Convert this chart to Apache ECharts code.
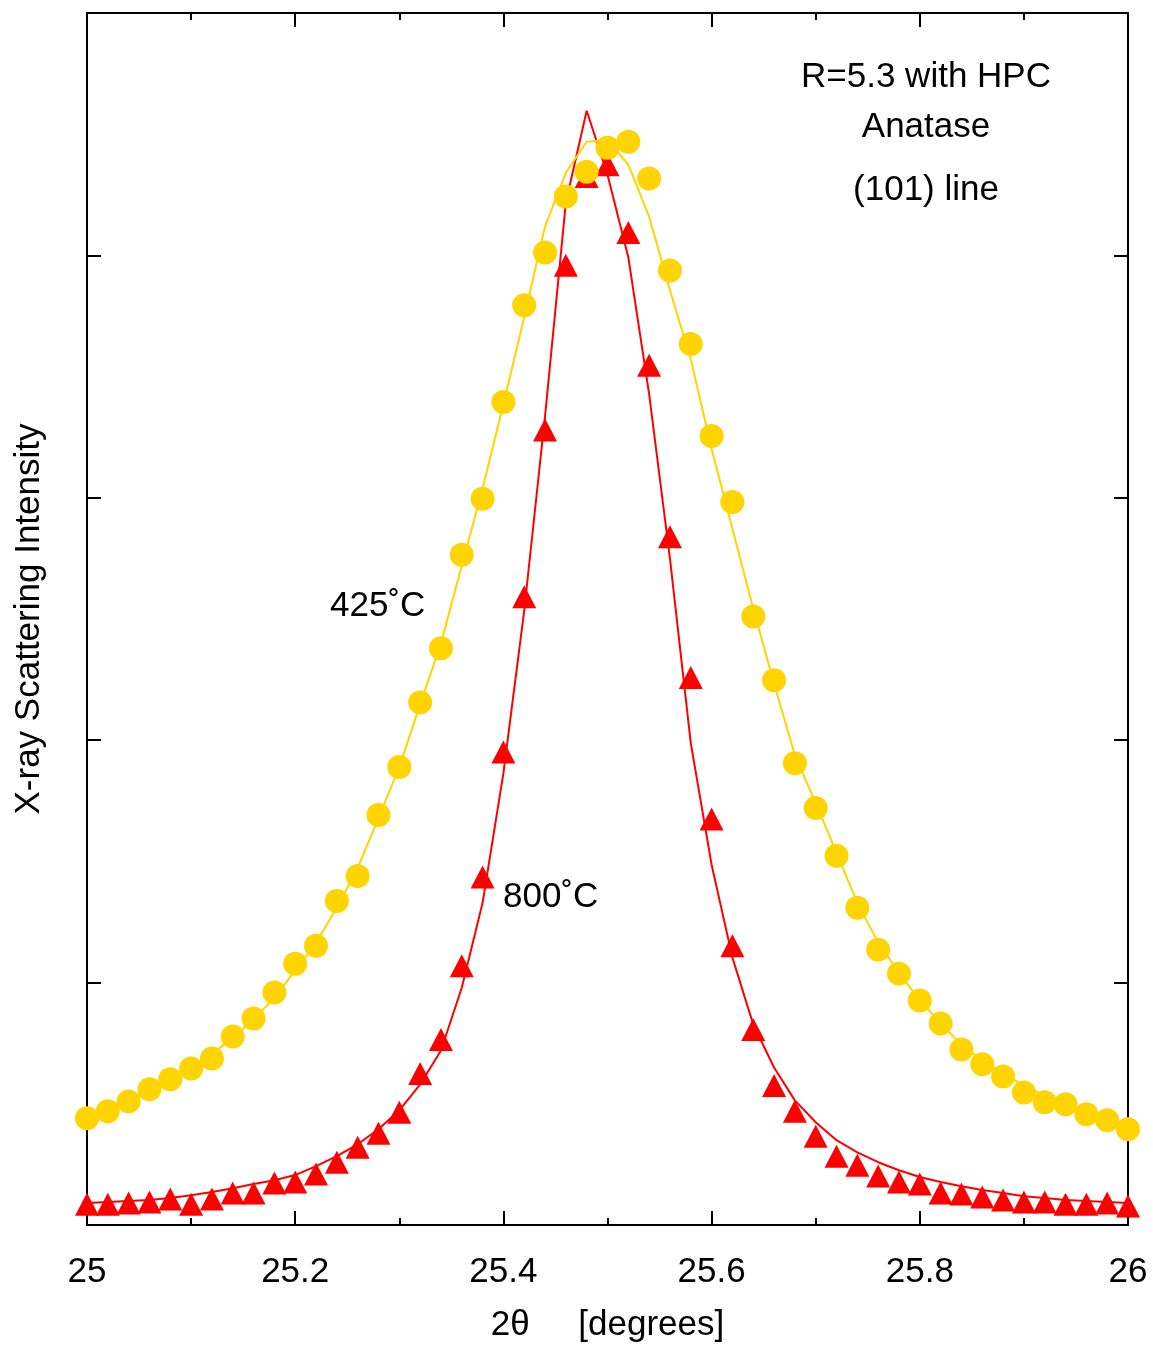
<!DOCTYPE html>
<html>
<head>
<meta charset="utf-8">
<script src="https://cdn.jsdelivr.net/npm/echarts@6/dist/echarts.min.js"></script>
<style>
html,body{margin:0;padding:0;background:#fff;}
#chart{width:1153px;height:1348px;}
</style>
</head>
<body>
<div id="chart"></div>
<script>
// 2-theta positions (degrees)
const twoTheta = [25.00,25.02,25.04,25.06,25.08,25.10,25.12,25.14,25.16,25.18,
  25.20,25.22,25.24,25.26,25.28,25.30,25.32,25.34,25.36,25.38,
  25.40,25.42,25.44,25.46,25.48,25.50,25.52,25.54,25.56,25.58,
  25.60,25.62,25.64,25.66,25.68,25.70,25.72,25.74,25.76,25.78,
  25.80,25.82,25.84,25.86,25.88,25.90,25.92,25.94,25.96,25.98,26.00];

// 425 C measured points (circles)
const pts425 = [440,469,510,560,601,646,687,778,852,959,
  1078,1152,1337,1440,1691,1889,2156,2379,2765,2996,
  3395,3794,4012,4243,4345,4444,4469,4317,3938,3634,
  3255,2983,2510,2247,1905,1720,1523,1309,1136,1037,
  926,831,724,663,613,547,506,498,457,432,395];

// 425 C fitted curve
const fit425 = [444,473,510,556,601,650,704,774,848,938,
  1049,1164,1309,1473,1679,1889,2148,2399,2720,3037,
  3387,3745,4119,4341,4469,4477,4374,4160,3856,3572,
  3201,2872,2543,2234,1938,1741,1535,1329,1165,1041,
  926,835,741,679,625,576,535,502,469,440,412];

// 800 C measured points (triangles)
const pts800 = [86,86,91,95,107,86,107,132,132,173,
  177,210,259,321,379,465,625,765,1070,1436,
  1951,2592,3280,3959,4325,4374,4094,3547,2839,2259,
  1675,1152,807,576,469,366,284,247,202,177,
  169,132,128,115,103,95,95,86,86,91,78];

// 800 C fitted curve
const fit800 = [91,95,99,103,111,123,136,152,169,185,
  206,243,284,333,395,473,580,720,979,1329,
  1864,2535,3337,4218,4597,4333,3992,3428,2749,1988,
  1486,1103,827,650,514,424,350,300,259,226,
  198,177,160,144,132,119,111,103,99,95,91];

const xTickLabels = ['25','25.2','25.4','25.6','25.8','26'];

const pair = arr => twoTheta.map((x,i)=>[x,arr[i]]);

const YEL = '#FFD400';
const RED = '#FF0000';
const FONT = '"Liberation Sans", Arial, Helvetica, sans-serif';

const chart = echarts.init(document.getElementById('chart'), null, {renderer:'canvas'});

const axisLineStyle = {color:'#000', width:2};
const baseX = {
  type:'value', min:25, max:26, interval:0.2,
  splitLine:{show:false},
  axisLine:{show:true, onZero:false, lineStyle:axisLineStyle},
  axisTick:{show:true, inside:true, length:14, lineStyle:{color:'#000', width:2}},
  minorTick:{show:true, splitNumber:2, length:7, lineStyle:{color:'#000', width:2}},
  minorSplitLine:{show:false}
};
const baseY = {
  type:'value', min:0, max:5000, interval:1000,
  splitLine:{show:false},
  axisLine:{show:true, onZero:false, lineStyle:axisLineStyle},
  axisTick:{show:true, inside:true, length:14, lineStyle:{color:'#000', width:2}},
  axisLabel:{show:false}
};

chart.setOption({
  backgroundColor:'#fff',
  animation:false,
  grid:{left:87, right:25, top:13, bottom:120, containLabel:false},
  xAxis:[
    Object.assign({}, baseX, {
      position:'bottom',
      axisLabel:{show:true, color:'#000', fontSize:35, fontFamily:FONT, margin:30,
        formatter:(v)=>xTickLabels[Math.round((v-25)/0.2)]},
      name:'2\u03B8     [degrees]', nameLocation:'middle', nameGap:83,
      nameTextStyle:{color:'#000', fontSize:35, fontFamily:FONT}
    }),
    Object.assign({}, baseX, {position:'top', axisLabel:{show:false}})
  ],
  yAxis:[
    Object.assign({}, baseY, {
      position:'left',
      name:'X-ray Scattering Intensity', nameLocation:'middle', nameGap:40,
      nameTextStyle:{color:'#000', fontSize:35, fontFamily:FONT}
    }),
    Object.assign({}, baseY, {position:'right'})
  ],
  series:[
    {name:'800 fit', type:'line', data:pair(fit800), showSymbol:false, symbol:'none',
      lineStyle:{color:RED, width:2}, z:2},
    {name:'425 fit', type:'line', data:pair(fit425), showSymbol:false, symbol:'none',
      lineStyle:{color:YEL, width:2}, z:3},
    {name:'800', type:'scatter', data:pair(pts800), symbol:'triangle', symbolSize:[24,23],
      itemStyle:{color:RED, opacity:1}, z:4},
    {name:'425', type:'scatter', data:pair(pts425), symbol:'circle', symbolSize:24,
      itemStyle:{color:YEL, opacity:1}, z:5}
  ],
  graphic:[
    {type:'text', x:926, y:77, style:{text:'R=5.3 with HPC', fill:'#000', font:'35px '+FONT, textAlign:'center', textVerticalAlign:'middle'}},
    {type:'text', x:926, y:127, style:{text:'Anatase', fill:'#000', font:'35px '+FONT, textAlign:'center', textVerticalAlign:'middle'}},
    {type:'text', x:926, y:190, style:{text:'(101) line', fill:'#000', font:'35px '+FONT, textAlign:'center', textVerticalAlign:'middle'}},
    {type:'text', x:330, y:606, style:{text:'425\u02DAC', fill:'#000', font:'35px '+FONT, textAlign:'left', textVerticalAlign:'middle'}},
    {type:'text', x:503, y:897, style:{text:'800\u02DAC', fill:'#000', font:'35px '+FONT, textAlign:'left', textVerticalAlign:'middle'}}
  ]
});
</script>
</body>
</html>
